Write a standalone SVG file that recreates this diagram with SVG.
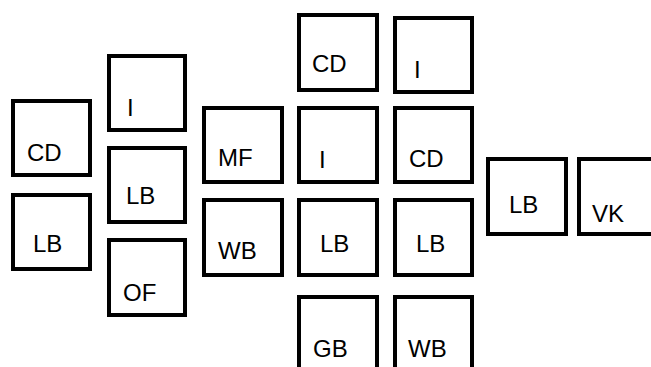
<svg xmlns="http://www.w3.org/2000/svg" width="651" height="367" viewBox="0 0 651 367">
  <style>
    .box { fill: #ffffff; stroke: #000000; stroke-width: 4; }
    .lbl { font-family: "Liberation Sans", Arial, sans-serif; font-size: 24px; fill: #000000; }
  </style>
  <rect x="0" y="0" width="651" height="367" fill="#ffffff"/>

  <!-- column 1 -->
  <g id="n-cd-1"><rect class="box" x="13" y="101" width="77" height="74"/><text class="lbl" x="27" y="161">CD</text></g>
  <g id="n-lb-1"><rect class="box" x="13" y="195" width="77" height="74"/><text class="lbl" x="33" y="252">LB</text></g>

  <!-- column 2 -->
  <g id="n-i-1"><rect class="box" x="109" y="56" width="76" height="74"/><text class="lbl" x="127" y="116">I</text></g>
  <g id="n-lb-2"><rect class="box" x="109" y="148" width="76" height="74"/><text class="lbl" x="126" y="204">LB</text></g>
  <g id="n-of"><rect class="box" x="109" y="240" width="76" height="75"/><text class="lbl" x="123" y="301">OF</text></g>

  <!-- column 3 -->
  <g id="n-mf"><rect class="box" x="204" y="108" width="78" height="74"/><text class="lbl" x="218" y="166">MF</text></g>
  <g id="n-wb-1"><rect class="box" x="204" y="200" width="78" height="75"/><text class="lbl" x="218" y="259">WB</text></g>

  <!-- column 4 -->
  <g id="n-cd-2"><rect class="box" x="299" y="15" width="78" height="75"/><text class="lbl" x="312" y="72">CD</text></g>
  <g id="n-i-2"><rect class="box" x="299" y="108" width="78" height="74"/><text class="lbl" x="319" y="168">I</text></g>
  <g id="n-lb-3"><rect class="box" x="299" y="200" width="78" height="75"/><text class="lbl" x="320" y="252">LB</text></g>
  <g id="n-gb"><rect class="box" x="299" y="297" width="78" height="80"/><text class="lbl" x="313" y="357">GB</text></g>

  <!-- column 5 -->
  <g id="n-i-3"><rect class="box" x="395" y="18" width="77" height="74"/><text class="lbl" x="414" y="78">I</text></g>
  <g id="n-cd-3"><rect class="box" x="395" y="108" width="77" height="74"/><text class="lbl" x="409" y="167">CD</text></g>
  <g id="n-lb-4"><rect class="box" x="395" y="200" width="77" height="75"/><text class="lbl" x="416" y="252">LB</text></g>
  <g id="n-wb-2"><rect class="box" x="395" y="297" width="77" height="80"/><text class="lbl" x="408" y="357">WB</text></g>

  <!-- columns 6 and 7 -->
  <g id="n-lb-5"><rect class="box" x="488" y="159" width="78" height="75"/><text class="lbl" x="509" y="213">LB</text></g>
  <g id="n-vk"><rect class="box" x="579" y="159" width="80" height="75"/><text class="lbl" x="592" y="222">VK</text></g>

  <g id="connectors"/>
</svg>
